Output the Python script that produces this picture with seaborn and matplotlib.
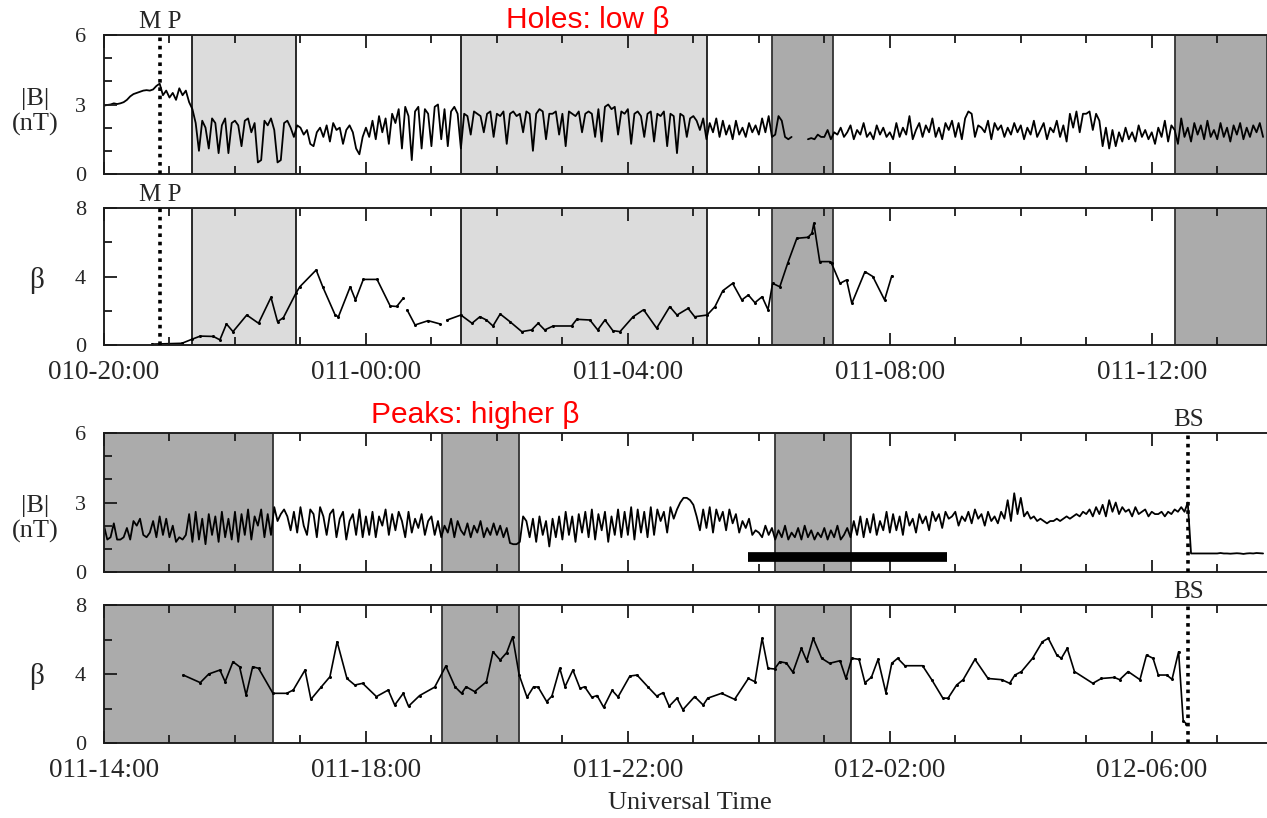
import numpy as np
import pandas as pd
import matplotlib
matplotlib.use("Agg")
import matplotlib.pyplot as plt
from matplotlib.ticker import MultipleLocator, FixedLocator
import seaborn as sns

sns.set_theme(style="ticks")
plt.rcParams['font.family'] = ['Liberation Serif', 'DejaVu Serif']
plt.rcParams['axes.axisbelow'] = False

# hours since panel start (top: 010-20:00, bottom: 011-14:00)
top_ticklabels = ['010-20:00', '011-00:00', '011-04:00', '011-08:00', '011-12:00']
bot_ticklabels = ['011-14:00', '011-18:00', '011-22:00', '012-02:00', '012-06:00']
x_end = 17.76

mp_time = 0.855
bs_time = 16.56

# shaded intervals (hours)
top_light = [(1.34, 2.93), (5.45, 9.21)]
top_dark = [(10.20, 11.13), (16.35, 17.76)]
bot_dark = [(0.0, 2.58), (5.16, 6.34), (10.24, 11.40)]
bar_span = (9.83, 12.88)
bar_level = 0.65

nan = np.nan
# |B| (nT), 3-minute samples, one row per hour
B_top = [
    [2.95, 2.98, 3.0, 3.05, 3.02, 3.05, 3.1, 3.2, 3.35, 3.45, 3.5, 3.55, 3.6, 3.62, 3.6, 3.65, 3.8, 3.9, 3.4, 3.6],
    [3.3, 3.5, 3.2, 3.7, 3.4, 3.6, 3.1, 2.8, 2.2, 1.0, 2.3, 2.0, 1.1, 2.4, 2.2, 0.9, 2.1, 2.4, 0.9, 2.2],
    [2.3, 2.1, 1.2, 2.3, 2.4, 1.8, 2.2, 0.5, 0.6, 2.3, 2.1, 2.4, 1.9, 0.5, 0.6, 2.2, 2.3, 2.0, 1.6, 2.1],
    [2.0, 1.7, 1.9, 1.3, 1.2, 1.8, 2.0, 1.6, 2.1, 1.4, 2.2, 1.9, 2.0, 1.3, 1.9, 2.1, 1.8, 1.1, 0.85, 1.6],
    [2.0, 1.6, 2.3, 1.5, 2.5, 1.8, 2.4, 1.3, 2.6, 2.2, 2.8, 1.1, 2.9, 2.5, 0.6, 2.7, 2.9, 1.1, 2.8, 2.6],
    [1.2, 2.9, 3.0, 1.5, 2.8, 1.2, 2.7, 2.9, 2.6, 1.1, 2.6, 2.5, 1.7, 2.7, 2.6, 2.5, 1.8, 2.6, 2.7, 1.6],
    [2.6, 2.5, 2.7, 1.3, 2.6, 2.7, 2.5, 2.6, 1.8, 2.7, 2.6, 1.0, 2.6, 2.8, 2.7, 1.5, 2.6, 2.6, 2.7, 1.7],
    [2.6, 1.2, 2.7, 2.6, 2.5, 2.7, 1.8, 2.6, 2.7, 2.6, 1.6, 2.8, 1.4, 2.9, 3.0, 2.8, 2.9, 1.7, 2.7, 2.6],
    [2.8, 1.3, 2.6, 2.7, 2.5, 1.6, 2.6, 2.7, 1.4, 2.6, 2.5, 2.7, 1.2, 2.6, 2.5, 0.9, 2.6, 2.5, 1.6, 2.4],
    [2.5, 2.3, 1.9, 2.4, 1.5, 2.2, 1.8, 2.4, 1.6, 2.3, 1.7, 2.1, 1.5, 2.3, 1.7, 2.0, 1.6, 2.2, 1.8, 2.1],
    [1.7, 2.4, 1.8, 2.5, 1.6, 1.7, 2.5, 2.3, 1.6, 1.5, 1.6, nan, nan, nan, nan, 1.5, 1.55, 1.5, 1.7, 1.6],
    [1.6, 1.9, 1.5, 1.8, 1.7, 2.0, 1.6, 1.8, 2.1, 1.5, 1.9, 1.7, 2.2, 1.6, 1.8, 1.5, 2.1, 1.7, 2.0, 1.6],
    [1.8, 1.5, 2.2, 1.6, 2.0, 1.7, 2.5, 1.5, 1.9, 2.2, 1.6, 2.1, 1.8, 2.4, 1.6, 2.0, 1.5, 2.2, 1.9, 2.3],
    [1.6, 2.2, 1.5, 2.4, 2.7, 2.6, 1.6, 2.1, 2.0, 1.8, 2.3, 1.5, 2.2, 1.9, 2.1, 1.6, 2.0, 1.7, 2.2, 1.8],
    [2.1, 1.5, 2.0, 1.7, 2.3, 1.6, 1.9, 2.2, 1.5, 2.0, 1.8, 2.3, 1.6, 2.1, 1.4, 2.6, 2.0, 2.7, 1.8, 2.6],
    [2.6, 2.7, 1.9, 2.6, 2.3, 1.2, 2.0, 1.1, 1.9, 1.2, 1.8, 1.4, 2.0, 1.5, 1.8, 1.4, 2.1, 1.6, 1.9, 1.5],
    [1.8, 1.3, 2.0, 1.6, 2.3, 1.4, 2.1, 1.9, 1.3, 2.4, 1.6, 2.0, 1.4, 2.2, 1.7, 2.1, 1.5, 2.3, 1.6, 1.9],
    [1.5, 2.2, 1.6, 2.0, 1.4, 2.1, 1.7, 2.2, 1.5, 2.0, 1.6, 2.1, 1.8, 2.2, 1.6],
]
B_bot = [
    [2.0, 1.4, 1.5, 2.1, 1.4, 1.4, 1.5, 1.9, 1.4, 2.2, 2.0, 2.3, 1.6, 1.5, 1.7, 2.2, 1.5, 2.4, 1.6, 2.3],
    [1.5, 2.0, 1.3, 1.5, 1.4, 1.6, 2.5, 1.3, 2.6, 1.4, 2.3, 1.2, 2.5, 1.6, 2.4, 1.3, 2.6, 1.5, 2.3, 1.4],
    [2.6, 1.3, 2.5, 1.6, 2.7, 1.4, 2.4, 2.0, 2.7, 1.5, 2.5, 1.6, 2.8, 2.2, 2.5, 2.7, 2.4, 1.8, 2.6, 1.7],
    [2.8, 2.0, 1.6, 2.7, 2.5, 1.5, 2.8, 2.4, 1.6, 2.5, 2.7, 1.5, 2.3, 2.6, 1.4, 2.2, 2.5, 1.6, 2.7, 1.5],
    [2.4, 1.6, 2.6, 1.5, 2.4, 2.0, 2.7, 1.6, 2.5, 1.8, 2.6, 2.2, 1.5, 2.6, 1.7, 2.3, 1.9, 2.5, 1.6, 2.2],
    [2.4, 1.6, 2.2, 1.5, 2.0, 1.7, 2.3, 1.5, 2.2, 1.8, 1.6, 2.1, 1.5, 2.0, 1.7, 2.2, 1.5, 1.9, 1.6, 2.1],
    [1.6, 2.0, 1.5, 1.9, 1.25, 1.2, 1.2, 1.3, 2.4, 2.2, 1.5, 2.3, 1.3, 2.4, 1.6, 2.2, 1.1, 2.3, 1.5, 2.4],
    [1.4, 2.6, 1.6, 2.4, 1.3, 2.5, 1.7, 2.6, 1.5, 2.7, 1.4, 2.5, 1.8, 2.6, 1.3, 2.4, 1.6, 2.7, 1.5, 2.6],
    [1.6, 2.8, 1.4, 2.7, 1.7, 2.6, 1.5, 2.8, 1.6, 2.7, 2.2, 2.6, 1.7, 2.8, 2.3, 2.7, 3.0, 3.2, 3.2, 3.1],
    [2.9, 2.4, 1.8, 2.7, 1.9, 2.8, 1.7, 2.7, 2.2, 2.6, 1.8, 2.7, 2.1, 2.5, 1.7, 2.2, 1.9, 2.3, 1.6, 1.8],
    [1.7, 1.5, 2.0, 1.6, 1.9, 1.4, 1.8, 1.5, 2.0, 1.4, 1.7, 1.5, 1.9, 1.4, 2.0, 1.5, 1.8, 1.4, 1.7, 1.5],
    [1.9, 1.4, 1.8, 1.5, 2.0, 1.4, 1.6, 1.9, 1.5, 2.2, 1.6, 2.4, 1.5, 2.3, 1.7, 2.5, 1.6, 2.2, 1.8, 2.6],
    [1.7, 2.5, 1.8, 2.4, 1.6, 2.6, 2.0, 2.3, 1.7, 2.5, 2.1, 2.4, 1.8, 2.6, 2.2, 2.5, 1.9, 2.6, 2.3, 2.4],
    [2.6, 2.0, 2.4, 2.2, 2.6, 2.1, 2.7, 2.3, 2.5, 2.0, 2.6, 2.2, 2.4, 2.1, 2.6, 2.3, 3.1, 2.2, 3.4, 2.5],
    [3.2, 2.4, 2.6, 2.3, 2.4, 2.2, 2.3, 2.2, 2.1, 2.2, 2.2, 2.3, 2.2, 2.3, 2.4, 2.3, 2.4, 2.5, 2.4, 2.6],
    [2.5, 2.7, 2.4, 2.8, 2.5, 2.9, 2.4, 3.1, 2.6, 3.0, 2.5, 2.8, 2.6, 2.7, 2.4, 2.8, 2.5, 2.6, 2.7, 2.4],
    [2.6, 2.5, 2.5, 2.6, 2.4, 2.6, 2.5, 2.7, 2.6, 2.8, 2.6, 3.0, 0.8, 0.8, 0.8, 0.8, 0.8, 0.8, 0.8, 0.8],
    [0.8, 0.82, 0.8, 0.8, 0.79, 0.8, 0.81, 0.8, 0.78, 0.8, 0.81, 0.8, 0.82, 0.81, 0.8],
]

# plasma beta (read points: time in hours, value)
beta_top_t = [0.73, 1.19, 1.34, 1.47, 1.67, 1.77, 1.87, 1.97, 2.18, 2.36, 2.55, 2.65, 2.74,
              2.93, 2.99, 3.24, 3.34, 3.53, 3.58, 3.76, 3.84, 3.96, 4.17, 4.37, 4.47, 4.57,
              nan,
              4.63, 4.75, 4.95, 5.13,
              nan,
              5.24, 5.45, 5.62, 5.74, 5.84, 5.94, 6.05, 6.2, 6.38, 6.53, 6.63, 6.73, 6.86,
              7.14, 7.22, 7.42, 7.54, 7.65, 7.77, 7.88, 8.08, 8.24, 8.44, 8.64, 8.75, 8.92,
              9.02, 9.21, 9.33, 9.45, 9.6, 9.74, 9.84, 9.94, 10.05, 10.14, 10.21, 10.32,
              10.44, 10.58, 10.75, 10.81, 10.84, 10.93, 11.08, 11.11, 11.24, 11.34, 11.42,
              11.62, 11.74, 11.92, 12.03]
beta_top = [0.05, 0.1, 0.33, 0.52, 0.5, 0.3, 1.23, 0.78, 1.75, 1.27, 2.78, 1.36, 1.6,
            3.02, 3.4, 4.38, 3.4, 1.75, 1.65, 3.4, 2.63, 3.83, 3.83, 2.28, 2.25, 2.73,
            nan,
            2.04, 1.17, 1.42, 1.23,
            nan,
            1.46, 1.75, 1.27, 1.65, 1.46, 1.11, 1.81, 1.36, 0.78, 0.88, 1.27, 0.88, 1.11,
            1.11, 1.5, 1.46, 0.88, 1.46, 0.84, 0.78, 1.65, 2.06, 0.98, 2.24, 1.75, 2.14,
            1.65, 1.75, 2.24, 3.17, 3.6, 2.63, 2.92, 2.47, 2.82, 2.06, 3.6, 3.4,
            4.77, 6.23, 6.29, 6.52, 7.1, 4.87, 4.87, 4.77, 3.6, 3.8, 2.43,
            4.28, 4.0, 2.63, 4.04]

beta_bot_t = [1.21, 1.47, 1.6, 1.77, 1.85, 1.97, 2.07, 2.17, 2.27, 2.36, 2.58, 2.79, 2.89,
              3.07, 3.16, 3.32, 3.45, 3.56, 3.71, 3.83, 3.95, 4.16, 4.34, 4.44, 4.57, 4.65,
              4.82, 5.05, 5.22, 5.36, 5.46, 5.53, 5.66, 5.84, 5.94, 6.05, 6.15, 6.24, 6.34,
              6.46, 6.56, 6.63, 6.76, 6.84, 6.96, 7.04, 7.16, 7.27, 7.34, 7.45, 7.53, 7.63,
              7.76, 7.85, 8.03, 8.14, 8.31, 8.44, 8.54, 8.63, 8.75, 8.84, 9.02, 9.15, 9.22,
              9.43, 9.63, 9.84, 9.94, 10.05, 10.14, 10.24, 10.32, 10.42, 10.52, 10.65, 10.73,
              10.83, 10.96, 11.08, 11.24, 11.33, 11.42, 11.53, 11.62, 11.72, 11.82, 11.94,
              12.03, 12.12, 12.23, 12.5, 12.64, 12.81, 12.89, 13.02, 13.12, 13.3, 13.5,
              13.71, 13.83, 13.91, 14.01, 14.18, 14.33, 14.42, 14.55, 14.62, 14.71, 14.82,
              15.1, 15.23, 15.43, 15.51, 15.64, 15.82, 15.92, 16.02, 16.1, 16.23, 16.31,
              16.41, 16.48, 16.53]
beta_bot = [3.94, 3.5, 4.0, 4.23, 3.55, 4.71, 4.42, 2.78, 4.42, 4.33, 2.88, 2.88, 3.07,
            4.23, 2.53, 3.26, 3.84, 5.87, 3.74, 3.36, 3.46, 2.69, 3.07, 2.2, 2.88, 2.13,
            2.75, 3.24, 4.46, 3.26, 2.88, 3.26, 2.98, 3.55, 5.29, 4.81, 5.24, 6.16, 3.94,
            2.65, 3.26, 3.24, 2.4, 2.72, 4.33, 3.26, 4.23, 3.16, 3.26, 2.65, 2.75, 2.07,
            3.05, 2.67, 3.88, 3.94, 3.24, 2.72, 2.92, 2.13, 2.6, 1.93, 2.69, 2.2, 2.6,
            2.88, 2.53, 3.74, 3.55, 6.07, 4.33, 4.29, 4.71, 4.64, 4.1, 5.49, 4.77,
            6.07, 4.91, 4.62, 4.77, 3.74, 4.91, 4.85, 3.49, 3.82, 4.85, 2.92,
            4.62, 4.91, 4.48, 4.48, 3.67, 2.6, 2.6, 3.36, 3.67, 4.85, 3.74,
            3.67, 3.46, 3.94, 4.14, 4.91, 5.87, 6.07, 5.1, 4.91, 5.49, 4.14,
            3.46, 3.74, 3.8, 3.67, 4.14, 3.67, 5.1, 4.91, 3.94, 3.94, 3.69,
            5.29, 1.3, 1.1]


def b_frame(rows):
    vals = np.array([v for r in rows for v in r], dtype=float)
    df = pd.DataFrame({'t': np.arange(len(vals)) / 20.0, 'v': vals})
    df['seg'] = df['v'].isna().cumsum()
    return df.dropna()


def pt_frame(t, v):
    df = pd.DataFrame({'t': t, 'v': v})
    df['seg'] = df['v'].isna().cumsum()
    return df.dropna()


W, H = 1267, 818
fig = plt.figure(figsize=(W / 100, H / 100), dpi=100)


def add_panel(top_px, bot_px):
    left = 104 / W
    return fig.add_axes([left, 1 - bot_px / H, 1 - left, (bot_px - top_px) / H])


def style(ax, ymax, ymaj, ymin, xlabels):
    ax.set_xlim(0, x_end)
    ax.set_ylim(0, ymax)
    ax.xaxis.set_major_locator(FixedLocator([0, 4, 8, 12, 16]))
    ax.xaxis.set_minor_locator(MultipleLocator(1))
    ax.yaxis.set_major_locator(FixedLocator(ymaj))
    ax.yaxis.set_minor_locator(FixedLocator(ymin))
    ax.tick_params(which='both', direction='in', top=True, right=False,
                   color='#1a1a1a', width=1.3)
    ax.tick_params(which='major', length=9)
    ax.tick_params(which='minor', length=6)
    ax.tick_params(axis='y', labelsize=16, pad=13)
    ax.tick_params(axis='x', labelsize=19.5, pad=11)
    if xlabels:
        ax.set_xticklabels(xlabels)
    else:
        ax.set_xticklabels([])
    ax.spines['right'].set_visible(False)
    for s in ['left', 'top', 'bottom']:
        ax.spines[s].set_color('#222222')
        ax.spines[s].set_linewidth(1.4)
    ax.set_xlabel('')
    ax.set_ylabel('')
    ax.set_facecolor('white')


def spans(ax, light, dark):
    for a, b in light:
        ax.axvspan(a, b, facecolor='#dcdcdc', edgecolor='#1a1a1a', lw=1.3, zorder=0)
    for a, b in dark:
        ax.axvspan(a, b, facecolor='#ababab', edgecolor='#333333', lw=1.3, zorder=0)


def boundary(ax, t, label):
    ax.axvline(t, color='black', lw=2.6, ls=(0, (1, 1.3)), zorder=3)
    ax.annotate(label, xy=(t, 1), xycoords=('data', 'axes fraction'), xytext=(0, 5),
                textcoords='offset points', ha='center', va='baseline', fontsize=18)


line_kw = dict(x='t', y='v', units='seg', estimator=None, color='black', legend=False)
dot_kw = dict(marker='o', markersize=2.2, markeredgecolor='black', markerfacecolor='black',
              markeredgewidth=0)

# panel 1: |B| top
ax1 = add_panel(35, 174)
spans(ax1, top_light, top_dark)
sns.lineplot(data=b_frame(B_top), lw=1.3, ax=ax1, **line_kw)
style(ax1, 6, [0, 3, 6], [1, 2, 4, 5], None)
boundary(ax1, mp_time, 'M P')

# panel 2: beta top
ax2 = add_panel(208, 345)
spans(ax2, top_light, top_dark)
sns.lineplot(data=pt_frame(beta_top_t, beta_top), lw=1.2, ax=ax2, **line_kw, **dot_kw)
style(ax2, 8, [0, 4, 8], [2, 6], top_ticklabels)
boundary(ax2, mp_time, 'M P')

# panel 3: |B| bottom
ax3 = add_panel(433, 572)
spans(ax3, [], bot_dark)
sns.lineplot(data=b_frame(B_bot), lw=1.3, ax=ax3, **line_kw)
ax3.plot(bar_span, [bar_level, bar_level], color='black', lw=7, solid_capstyle='butt', zorder=4)
style(ax3, 6, [0, 3, 6], [1, 2, 4, 5], None)
boundary(ax3, bs_time, 'BS')

# panel 4: beta bottom
ax4 = add_panel(605, 743)
spans(ax4, [], bot_dark)
sns.lineplot(data=pt_frame(beta_bot_t, beta_bot), lw=1.2, ax=ax4, **line_kw, **dot_kw)
style(ax4, 8, [0, 4, 8], [2, 6], bot_ticklabels)
boundary(ax4, bs_time, 'BS')

# y labels and annotations
fig.text(35 / W, 1 - 112 / H, '|B|\n(nT)', ha='center', va='center', fontsize=19, linespacing=1.15)
fig.text(35 / W, 1 - 519 / H, '|B|\n(nT)', ha='center', va='center', fontsize=19, linespacing=1.15)
fig.text(37 / W, 1 - 280 / H, 'β', ha='center', va='center', fontsize=21)
fig.text(37 / W, 1 - 676 / H, 'β', ha='center', va='center', fontsize=21)
fig.text(690 / W, 1 - 803 / H, 'Universal Time', ha='center', va='center', fontsize=19)

fig.text(588 / W, 1 - 20 / H, 'Holes: low β', ha='center', va='center', fontsize=21.5,
         color='red', family=['Liberation Sans', 'DejaVu Sans'])
fig.text(475 / W, 1 - 415 / H, 'Peaks: higher β', ha='center', va='center', fontsize=21.5,
         color='red', family=['Liberation Sans', 'DejaVu Sans'])

fig.savefig('out.png', dpi=100, facecolor='white')
